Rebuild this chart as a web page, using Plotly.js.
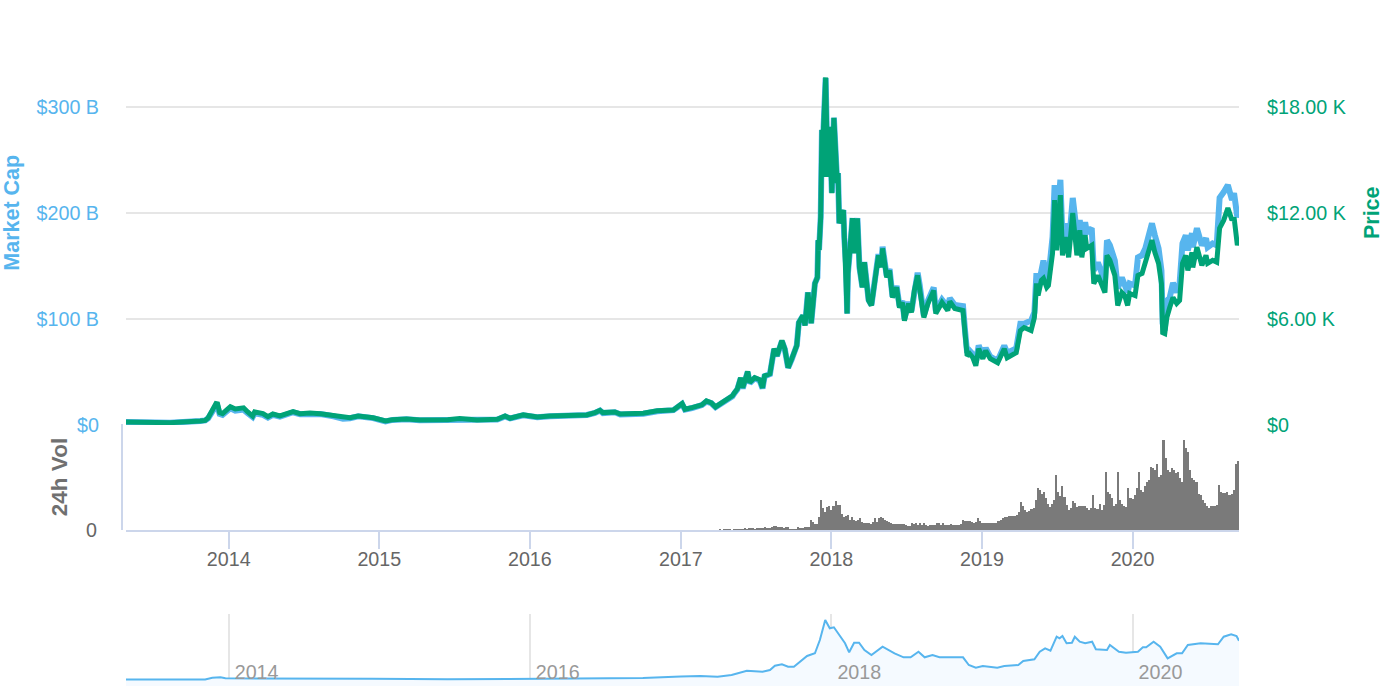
<!DOCTYPE html>
<html><head><meta charset="utf-8">
<script src="https://cdn.plot.ly/plotly-3.0.1.min.js"></script>
<style>html,body{margin:0;padding:0;background:#fff}#c{width:1384px;height:686px}</style>
</head><body><div id="c"></div>
<script>
const dates=[
'2013-04-27','2013-06-24','2013-08-12','2013-10-24','2013-11-05','2013-11-12','2013-11-18','2013-12-01','2013-12-05','2013-12-10','2013-12-17','2013-12-24',
'2014-01-05','2014-01-17','2014-02-06','2014-02-16','2014-02-28','2014-03-05','2014-03-25','2014-04-06','2014-04-18','2014-05-05','2014-05-22','2014-06-06','2014-06-23','2014-07-17','2014-08-11','2014-09-12','2014-10-05','2014-10-22','2014-11-11','2014-12-17',
'2015-01-16','2015-02-02','2015-03-08','2015-04-09','2015-06-16','2015-07-15','2015-08-26','2015-10-14','2015-11-02','2015-11-14','2015-12-16',
'2016-01-19','2016-02-19','2016-05-18','2016-06-07','2016-06-19','2016-06-26','2016-07-25','2016-08-07','2016-10-02','2016-11-05','2016-12-14',
'2017-01-04','2017-01-11','2017-01-28','2017-02-09','2017-02-21','2017-03-04','2017-03-16','2017-03-26','2017-04-10','2017-04-24','2017-05-06','2017-05-11','2017-05-18','2017-05-26','2017-05-31','2017-06-12','2017-06-17','2017-06-29','2017-07-11','2017-07-18','2017-07-23','2017-08-05','2017-08-15','2017-08-22','2017-09-03','2017-09-10','2017-09-18','2017-09-27','2017-10-09','2017-10-14','2017-10-24','2017-10-29','2017-11-05','2017-11-13','2017-11-22','2017-11-28','2017-11-30','2017-12-02','2017-12-06','2017-12-09','2017-12-11','2017-12-13','2017-12-18','2017-12-23','2017-12-28',
'2018-01-02','2018-01-07','2018-01-15','2018-01-17','2018-01-20','2018-01-30','2018-02-01','2018-02-06','2018-02-08','2018-02-10','2018-02-17','2018-02-21','2018-02-26','2018-03-05','2018-03-10','2018-03-17','2018-03-22','2018-04-01','2018-04-08','2018-04-15','2018-04-25','2018-05-02','2018-05-05','2018-05-15','2018-05-22','2018-05-29','2018-06-08','2018-06-15','2018-06-22','2018-06-27','2018-07-07','2018-07-14','2018-07-21','2018-07-29','2018-08-03','2018-08-13','2018-08-23','2018-09-06','2018-09-11','2018-09-26','2018-10-10','2018-10-15','2018-10-27','2018-11-16','2018-11-21','2018-11-26','2018-12-02','2018-12-10','2018-12-17','2018-12-24',
'2019-01-03','2019-01-10','2019-01-21','2019-02-08','2019-02-24','2019-03-03','2019-03-25','2019-04-04','2019-04-13','2019-04-21','2019-04-30','2019-05-08','2019-05-13','2019-05-17','2019-05-25','2019-05-30','2019-06-07','2019-06-11','2019-06-21','2019-06-26','2019-07-01','2019-07-10','2019-07-15','2019-07-22','2019-07-30','2019-08-09','2019-08-19','2019-08-26','2019-08-31','2019-09-08','2019-09-12','2019-09-24','2019-09-29','2019-10-09','2019-10-16','2019-10-26','2019-10-31','2019-11-07','2019-11-19','2019-11-26','2019-12-06','2019-12-13','2019-12-20','2019-12-25',
'2020-01-07','2020-01-14','2020-01-24','2020-02-01','2020-02-08','2020-02-17','2020-02-24','2020-03-04','2020-03-11','2020-03-14','2020-03-19','2020-03-24','2020-03-31','2020-04-08','2020-04-17','2020-04-24','2020-05-01','2020-05-09','2020-05-14','2020-05-24','2020-05-26','2020-06-05','2020-06-17','2020-06-27','2020-07-01','2020-07-13','2020-07-23','2020-07-30','2020-08-09','2020-08-19','2020-08-29','2020-09-03','2020-09-11','2020-09-15'];
const priceK=[
.17,.17,.13,.23,.26,.40,.70,1.21,1.19,.70,.64,.80,
1.04,.91,.97,.74,.51,.74,.64,.47,.62,.51,.62,.76,.64,.68,.64,.53,.40,.41,.51,.41,
.23,.30,.34,.28,.30,.36,.28,.32,.51,.38,.57,
.45,.51,.57,.70,.83,.70,.74,.62,.66,.80,.85,
1.21,.89,.98,1.08,1.14,1.36,1.25,1.02,1.25,1.39,1.65,1.83,2.04,2.67,2.10,3.03,2.40,2.67,2.56,2.10,2.78,2.90,4.31,3.92,4.77,4.31,3.24,3.75,4.48,5.79,6.19,5.62,7.49,5.75,8.0,8.35,10.45,9.88,11.75,16.69,14.03,16.86,19.65,14.03,16.86,
13.11,17.37,13.68,14.25,11.41,12.15,10.62,8.91,6.30,8.57,10.45,11.69,9.71,11.69,8.91,7.78,9.2,7.04,6.76,8.18,9.59,8.91,9.99,8.35,8.74,7.21,7.78,6.64,6.93,5.90,6.87,6.36,7.61,8.46,7.78,6.08,6.87,7.61,6.30,6.93,6.47,6.98,6.59,6.47,5.17,3.92,4.03,3.80,3.35,4.31,
3.75,4.20,3.75,3.52,4.31,3.80,4.09,5.34,5.51,5.45,5.34,6.07,8.0,7.32,8.18,8.29,7.78,7.89,9.71,12.72,9.88,13.0,9.59,10.62,9.48,11.98,9.59,11.01,9.48,10.73,9.99,10.16,8.0,8.46,8.0,7.49,9.59,9.31,8.46,6.76,7.49,7.32,6.76,7.44,
7.32,8.46,8.57,9.14,9.71,10.45,9.76,9.14,8.0,5.22,5.17,6.07,6.64,7.21,6.87,7.04,9.14,9.59,8.74,9.76,8.91,10.05,9.03,9.59,9.14,9.31,9.2,11.13,11.58,12.26,11.58,11.75,10.16,10.56];
const capB=[
2.8,2.8,2.2,3.8,4.3,6.2,10.5,18,17,10.5,9.5,12,
15.8,13.5,14.5,11.2,7.5,11,9.5,7,9.5,7.8,9.6,12,10.2,10.9,10.3,8.2,6,6.4,8.2,6.5,
3.4,4.8,5.4,4.4,4.9,5.6,4.5,5.2,8,6.2,9.2,
7.3,8.2,9.4,11.4,13.6,11.2,12,10,10.7,13,14,
19.8,14.5,16,17.6,18.8,22,20.5,16.8,20.5,22.8,27,30,33.5,44,34.5,50,39.5,44,42,34.5,46,48,71.5,65,79,71.5,54,62,75,96.5,103,94,125,96,133.5,139,174,165,196,278,234,281,327,234,281,
219,289.5,228,237.5,190,202.5,177,148.5,105,143,174,195,162,195,148.5,130,153.5,118,113,137,161,149.5,168,140.5,147,121,131,112,117,100,116,107.5,129,143.5,132,103,117,129.5,107.5,118,111,119.5,113,112,88.5,68,70,66.5,59,75,
65,72.5,64.5,60.5,74.7,68,72,95.5,95.5,96.5,98.4,106,143,129.6,145.7,155,139,139,177,226,186.4,231,177,190,167.5,214,180.7,193,174,191,181.6,185.4,145.7,153,145.7,134.3,174,169.3,155,128.7,139,131.5,125,133.4,
131.5,158,160,166.5,176,190,178.8,166.5,145.7,95.5,89,117,120,134,125,133.4,171,178.8,164.6,180.7,167.5,185.4,169.3,176,167.5,171,169.3,214,219.5,226,212,218.5,196,199.6];
// 24h volume, one bar per 5 days starting at volStart; the axis shows only its zero tick
const volStart='2017-03-27';
const volB=[
0,0,1,0,1,1,1,1,0,1,1,1,1,1,2,1,2,2,2,1,2,2,2,2,3,2,2,3,4,4,3,
3,3,2,3,3,1,1,1,1,3,2,2,3,3,3,10,8,6,6,13,30,22,18,23,24,20,24,29,25,25,16,13,14,15,10,13,10,9,10,12,8,7,7,7,6,8,12,8,12,13,12,10,9,8,7,6,6,6,6,6,6,5,4,4,7,6,7,5,7,5,7,5,4,5,5,5,7,7,5,7,5,5,5,6,5,5,5,5,6,10,9,9,9,8,7,8,12,9,7,7,7,7,7,7,7,7,9,10,12,13,13,14,14,14,14,15,18,28,24,20,18,19,21,22,30,42,40,36,38,32,26,23,26,30,55,38,34,44,33,25,20,22,29,27,23,24,24,24,24,22,20,22,35,22,21,26,20,25,58,38,36,32,24,26,58,30,26,24,23,42,32,31,35,42,58,40,38,44,48,50,63,62,60,66,53,55,90,72,60,58,62,60,57,58,52,48,90,82,78,60,52,50,48,36,35,30,27,24,22,24,24,24,25,45,38,37,37,38,35,36,40,66,69];
const sliderDates=['2013-04-27','2013-11-05','2013-11-22','2013-12-12','2013-12-24','2014-06-15','2014-12-15','2015-06-15','2016-01-01','2016-07-01','2016-10-01','2017-01-01','2017-02-17','2017-03-31','2017-05-04','2017-06-10','2017-07-18','2017-08-05','2017-08-17','2017-09-03','2017-09-18','2017-10-02','2017-10-21','2017-11-03','2017-11-22','2017-12-04','2017-12-17','2017-12-28','2018-01-07','2018-01-27','2018-02-03','2018-02-13','2018-02-25','2018-03-09','2018-03-22','2018-04-08','2018-05-05','2018-06-03','2018-06-25','2018-07-12','2018-07-31','2018-08-15','2018-09-03','2018-09-20','2018-11-16','2018-11-30','2018-12-17','2019-01-03','2019-02-07','2019-02-24','2019-03-30','2019-04-11','2019-05-08','2019-05-21','2019-06-03','2019-06-16','2019-07-01','2019-07-08','2019-07-15','2019-07-25','2019-08-07','2019-08-14','2019-08-26','2019-09-08','2019-09-25','2019-10-04','2019-10-31','2019-11-07','2019-11-29','2019-12-16','2020-01-14','2020-01-26','2020-02-03','2020-02-21','2020-03-08','2020-03-26','2020-04-17','2020-04-30','2020-05-14','2020-06-14','2020-07-26','2020-08-09','2020-08-27','2020-09-09','2020-09-15'];
const sliderVals=[6.5,6.5,8.3,8.7,7.7,7.7,7.2,6.7,7,8,8,9.5,10,9.3,11,15.3,14.3,16,20.3,21.7,19.3,19.3,26,30,32.7,46,66,57.7,58.7,47.7,42.7,33.7,43.3,43.3,36,31,39.3,32.7,28.7,28.7,34.3,28.7,31,28.7,28.7,21,18.3,20,18.3,20,21,25,26.7,34.3,37.7,35.3,49.3,47.7,50,42.7,43.3,49.3,44.3,42.7,44.3,36.7,36,41,34.3,33.3,34.3,38.7,38.7,44.3,39.3,27.7,32.7,32.7,41,42.7,41.7,49.3,51.7,50,45.3];
const capTicks=[0,100,200,300,400], capLabels=['$0','$100 B','$200 B','$300 B',''];
const priceTicks=[0,6,12,18], priceLabels=['$0','$6.00 K','$12.00 K','$18.00 K'];
const yearTicks=['2014-01-01','2015-01-01','2016-01-01','2017-01-01','2018-01-01','2019-01-01','2020-01-01'], yearLabels=['2014','2015','2016','2017','2018','2019','2020'];
const sliderTicks=['2014-01-01','2016-01-01','2018-01-01','2020-01-01'], sliderLabels=['2014','2016','2018','2020'];

const FONT='"Liberation Sans", Arial, sans-serif';
const BLUE='#57b5ee', GREEN='#00a377', GRAY='#666666', AXIS='#ccd6eb', GRID='#e6e6e6';
const W=1384,H=686;
const dx=[126/W,1239/W];
const dy=(top,bot)=>[1-bot/H,1-top/H];
const range=['2013-04-27','2020-09-15'];
const volDates=volB.map((_,i)=>{const d=new Date(volStart+'T00:00:00Z');d.setUTCDate(d.getUTCDate()+5*i);return d.toISOString().slice(0,10);});

const traces=[
 {type:'bar',x:volDates,y:volB,xaxis:'x',yaxis:'y3',marker:{color:'#7a7a7a',line:{width:0}},hoverinfo:'skip'},
 {type:'scatter',mode:'lines',x:dates,y:capB,xaxis:'x',yaxis:'y',line:{color:BLUE,width:6,join:'round'},hoverinfo:'skip'},
 {type:'scatter',mode:'lines',x:dates,y:priceK,xaxis:'x',yaxis:'y2',line:{color:GREEN,width:5,join:'round'},hoverinfo:'skip'},
 {type:'scatter',mode:'lines',x:sliderDates,y:sliderVals,xaxis:'x2',yaxis:'y4',fill:'tozeroy',fillcolor:'#f5faff',line:{color:BLUE,width:2},hoverinfo:'skip'}
];
const layout={
 width:W,height:H,margin:{l:0,r:0,t:0,b:0},paper_bgcolor:'#fff',plot_bgcolor:'rgba(0,0,0,0)',showlegend:false,bargap:0,
 font:{family:FONT,size:19.7,color:GRAY},
 xaxis:{domain:dx,anchor:'y3',type:'date',range:range,tickvals:yearTicks,ticktext:yearLabels,showgrid:false,zeroline:false,showline:true,linecolor:AXIS,linewidth:2,ticks:'outside',ticklen:17,tickwidth:2,tickcolor:AXIS,tickfont:{color:GRAY,size:19.7},ticklabelstandoff:-7},
 yaxis:{domain:dy(0.5,425),anchor:'x',range:[0,400],tickvals:capTicks,ticktext:capLabels,showgrid:true,gridcolor:GRID,gridwidth:2,zeroline:false,showline:false,ticks:'',tickfont:{color:BLUE,size:19.7},ticklabelstandoff:26,
  title:{text:'<b>Market Cap</b>',font:{color:BLUE,size:21.5},standoff:24}},
 yaxis2:{domain:dy(0.5,425),anchor:'x',overlaying:'y',side:'right',range:[0,24],tickvals:priceTicks,ticktext:priceLabels,showgrid:false,zeroline:false,showline:false,ticks:'',tickfont:{color:GREEN,size:19.7},ticklabelstandoff:27,
  title:{text:'<b>Price</b>',font:{color:GREEN,size:21.5},standoff:24}},
 yaxis3:{domain:dy(424,530),anchor:'free',position:122/W,range:[0,106],tickvals:[0],ticktext:['0'],showgrid:false,zeroline:false,showline:true,linecolor:AXIS,linewidth:2,ticks:'',tickfont:{color:GRAY,size:19.7},ticklabelstandoff:20,
  title:{text:'<b>24h Vol</b>',font:{color:'#707070',size:22.5},standoff:11.5}},
 xaxis2:{domain:dx,anchor:'y4',type:'date',range:range,tickvals:sliderTicks,ticktext:sliderLabels,showgrid:true,gridcolor:GRID,gridwidth:2,zeroline:false,showline:false,ticks:'',ticklabelposition:'inside right',ticklabelshift:6,ticklabelstandoff:-3,tickfont:{color:'#999999',size:19.7}},
 yaxis4:{domain:dy(614,686),anchor:'x2',range:[0,72],showgrid:false,zeroline:false,showline:false,showticklabels:false,ticks:''}
};
Plotly.newPlot('c',traces,layout,{displayModeBar:false,staticPlot:true});
</script></body></html>
